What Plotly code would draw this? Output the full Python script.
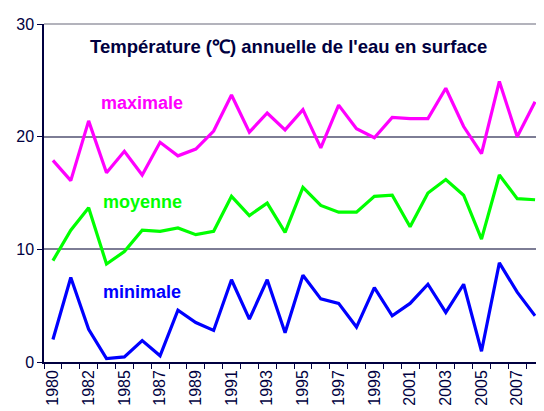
import plotly.graph_objects as go

# Années (une année manque dans la série d'origine entre 1982 et 1985)
years = [1980, 1981, 1982, 1983, 1985, 1986, 1987, 1988, 1989, 1990,
         1991, 1992, 1993, 1994, 1995, 1996, 1997, 1998, 1999, 2000,
         2001, 2002, 2003, 2004, 2005, 2006, 2007, 2008]

maximale = [17.9, 16.1, 21.4, 16.8, 18.7, 16.6, 19.5, 18.3, 18.9, 20.5,
            23.7, 20.4, 22.1, 20.6, 22.4, 19.0, 22.8, 20.7, 19.9, 21.7,
            21.6, 21.6, 24.3, 20.9, 18.5, 24.9, 20.0, 23.1]

moyenne = [9.0, 11.7, 13.7, 8.7, 9.8, 11.7, 11.6, 11.9, 11.3, 11.6,
           14.7, 13.0, 14.1, 11.5, 15.5, 13.9, 13.3, 13.3, 14.7, 14.8,
           12.0, 15.0, 16.2, 14.8, 10.9, 16.6, 14.5, 14.4]

minimale = [2.0, 7.5, 2.9, 0.3, 0.45, 1.9, 0.55, 4.6, 3.5, 2.8,
            7.3, 3.8, 7.3, 2.6, 7.7, 5.6, 5.2, 3.1, 6.6, 4.1,
            5.2, 6.9, 4.4, 6.9, 0.95, 8.8, 6.2, 4.1]

y_ticks = [0, 10, 20, 30]

navy = "#000040"
font = "Liberation Sans, Arial, sans-serif"

x = list(range(len(years)))
label_idx = x[::2]

fig = go.Figure()
for name, vals, color in [("maximale", maximale, "#FF00FF"),
                          ("moyenne", moyenne, "#00FF00"),
                          ("minimale", minimale, "#0000FF")]:
    fig.add_trace(go.Scatter(x=x, y=vals, mode="lines", name=name,
                             line=dict(color=color, width=3.2)))

# étiquettes des séries
fig.add_annotation(x=4.97, y=23.0, text="<b>maximale</b>", showarrow=False,
                   font=dict(family=font, size=18, color="#FF00FF"))
fig.add_annotation(x=5.0, y=14.2, text="<b>moyenne</b>", showarrow=False,
                   font=dict(family=font, size=18, color="#00FF00"))
fig.add_annotation(x=4.97, y=6.2, text="<b>minimale</b>", showarrow=False,
                   font=dict(family=font, size=18, color="#0000FF"))

fig.add_annotation(x=13.2, y=28.0, showarrow=False,
                   text="<b>Température (℃) annuelle de l'eau en surface</b>",
                   font=dict(family=font, size=18.5, color=navy))

# bord supérieur du tracé (gris clair, comme dans Excel)
fig.add_shape(type="line", xref="paper", yref="paper", x0=0, x1=1, y0=1, y1=1,
              line=dict(color="#9a9aa6", width=1.5))

# la page ajoute 8 px de marge autour du graphique : on compense
fig.update_layout(
    width=544, height=411,
    margin=dict(l=34, r=8, t=12, b=57),
    paper_bgcolor="white", plot_bgcolor="white",
    showlegend=False,
    font=dict(family=font, color=navy),
)

fig.update_xaxes(
    range=[-0.5, len(years) - 0.5],
    tickmode="array", tickvals=label_idx,
    ticktext=[str(years[i]) for i in label_idx],
    tickangle=-90, tickfont=dict(size=16, color=navy),
    ticks="", showgrid=False, zeroline=False,
    showline=True, linecolor=navy, linewidth=1.5,
    minor=dict(ticks="outside", tick0=-0.5, dtick=1, ticklen=5,
               tickcolor=navy, tickwidth=1.2, showgrid=False),
)

fig.update_yaxes(
    range=[0, 30], tickvals=y_ticks,
    tickfont=dict(size=16, color=navy),
    ticks="outside", ticklen=5, tickcolor=navy, tickwidth=1.2,
    showgrid=True, gridcolor="#7d7d95", gridwidth=1.5,
    zeroline=False, showline=True, linecolor=navy, linewidth=1.5,
)

fig.write_html("out.html")
